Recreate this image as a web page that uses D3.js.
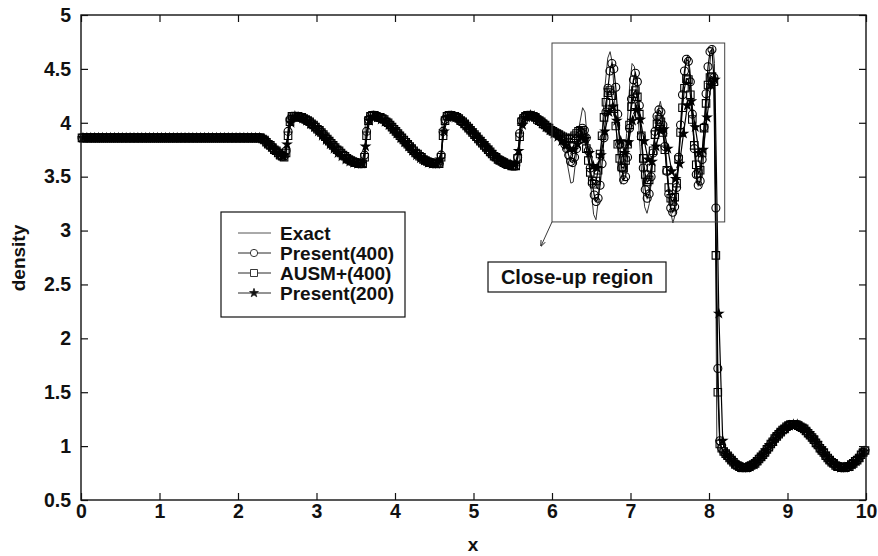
<!DOCTYPE html>
<html>
<head>
<meta charset="UTF-8">
<title>density</title>
<script src="https://cdn.jsdelivr.net/npm/d3@7"></script>
<style>
  body { margin: 0; background: #fff; }
  svg text { font-family: "Liberation Sans", Arial, Helvetica, sans-serif; font-weight: bold; fill: #111; }
</style>
</head>
<body>
<svg id="chart" width="878" height="556"></svg>
<script>
// tick labels
var xTicks = [0, 1, 2, 3, 4, 5, 6, 7, 8, 9, 10];
var yTicks = [0.5, 1, 1.5, 2, 2.5, 3, 3.5, 4, 4.5, 5];
var seriesNames = ["Exact", "Present(400)", "AUSM+(400)", "Present(200)"];

// exact solution
var exactX = [0, 2.30, 2.40, 2.50, 2.60, 2.64, 2.64, 2.70, 2.80, 2.90, 3.00, 3.10, 3.20, 3.30, 3.40, 3.50, 3.62,
  3.62, 3.70, 3.80, 3.90, 4.00, 4.10, 4.20, 4.30, 4.40, 4.50, 4.60,
  4.60, 4.68, 4.78, 4.88, 4.98, 5.08, 5.18, 5.28, 5.38, 5.48, 5.59,
  5.59, 5.68, 5.78, 5.88, 5.98, 6.06, 6.10, 6.16, 6.20, 6.24, 6.27, 6.31, 6.35, 6.39, 6.42, 6.45, 6.49,
  6.53, 6.56, 6.59, 6.63, 6.67, 6.71, 6.74, 6.77, 6.81, 6.85, 6.88, 6.91, 6.95, 6.99, 7.02, 7.05, 7.09,
  7.14, 7.18, 7.21, 7.24, 7.29, 7.34, 7.38, 7.42, 7.47, 7.51, 7.54, 7.57, 7.62, 7.67, 7.71, 7.73, 7.76,
  7.81, 7.86, 7.89, 7.92, 7.97, 8.02, 8.05, 8.07, 8.10, 8.15, 8.20, 8.30, 8.40, 8.50, 8.60, 8.70, 8.80,
  8.90, 9.00, 9.10, 9.20, 9.30, 9.40, 9.50, 9.60, 9.70, 9.80, 9.90, 10.0];
var exactY = [3.857, 3.857, 3.80, 3.73, 3.68, 3.68, 4.05, 4.07, 4.05, 4.00, 3.94, 3.87, 3.80, 3.73, 3.67, 3.63, 3.61,
  4.05, 4.07, 4.05, 4.00, 3.94, 3.86, 3.78, 3.71, 3.66, 3.63, 3.61,
  4.05, 4.07, 4.05, 4.00, 3.93, 3.85, 3.77, 3.70, 3.65, 3.61, 3.60,
  4.04, 4.07, 4.06, 4.01, 3.94, 3.88, 3.85, 3.76, 3.60, 3.44, 3.45, 3.70, 3.98, 4.14, 4.10, 3.85, 3.45,
  3.15, 3.10, 3.28, 3.80, 4.30, 4.60, 4.66, 4.55, 4.05, 3.60, 3.43, 3.50, 3.90, 4.35, 4.55, 4.52, 4.15,
  3.55, 3.22, 3.16, 3.25, 3.70, 4.08, 4.20, 4.05, 3.55, 3.18, 3.07, 3.15, 3.70, 4.30, 4.58, 4.63, 4.48,
  3.85, 3.45, 3.41, 3.55, 4.15, 4.62, 4.71, 4.55, 1.03, 0.99, 0.94, 0.86, 0.81, 0.80, 0.85, 0.92, 1.01,
  1.10, 1.17, 1.20, 1.17, 1.10, 1.01, 0.92, 0.85, 0.80, 0.81, 0.87, 0.95];

// Present, 400 cells (cell centres on [0,10])
var present400 = [
  3.86,3.86,3.86,3.86,3.86,3.86,3.86,3.86,3.86,3.86, 3.86,3.86,3.86,3.86,3.86,3.86,3.86,3.86,3.86,3.86,
  3.86,3.86,3.86,3.86,3.86,3.86,3.86,3.86,3.86,3.86, 3.86,3.86,3.86,3.86,3.86,3.86,3.86,3.86,3.86,3.86,
  3.86,3.86,3.86,3.86,3.86,3.86,3.86,3.86,3.86,3.86, 3.86,3.86,3.86,3.86,3.86,3.86,3.86,3.86,3.86,3.86,
  3.86,3.86,3.86,3.86,3.86,3.86,3.86,3.86,3.86,3.86, 3.86,3.86,3.86,3.86,3.86,3.86,3.86,3.86,3.86,3.86,
  3.86,3.86,3.86,3.86,3.86,3.86,3.86,3.86,3.86,3.86, 3.86,3.86,
  3.85,3.84,3.82,3.80,3.79,3.77,3.75,3.74,3.72,3.70,3.69,3.69,3.74,3.92,4.03,4.06,
  4.06,4.06,4.06,4.05,4.05,4.04,4.03,4.02,4.01,3.99,3.98,3.96,3.94,3.93,3.91,3.89,3.87,3.85,
  3.83,3.81,3.79,3.77,3.75,3.74,3.72,3.70,3.69,3.67,3.66,3.65,3.64,3.63,3.63,3.62,3.62,3.62,
  3.70,3.92,4.03,
  4.06,4.07,4.07,4.06,4.05,4.05,4.04,4.03,4.01,4.00,3.98,3.96,3.94,3.92,3.90,3.88,3.86,3.84,
  3.82,3.80,3.78,3.76,3.74,3.72,3.71,3.69,3.68,3.66,3.65,3.64,3.63,3.63,3.62,3.62,3.62,3.62,
  3.70,3.92,4.03,
  4.06,4.07,4.07,4.06,4.06,4.05,4.04,4.02,4.01,3.99,3.97,3.95,3.93,3.91,3.89,3.87,3.85,3.83,
  3.81,3.79,3.77,3.75,3.73,3.71,3.69,3.68,3.66,3.65,3.64,3.63,3.62,3.61,3.61,3.60,3.60,3.60,
  3.68,3.90,4.02,
  4.05,4.06,4.07,4.07,4.07,4.06,4.05,4.04,4.02,4.01, 4.00,3.98,3.96,3.95,3.93,3.92,3.91,3.90,3.89,3.87,
  3.84,3.80,3.76,3.70,3.64,3.63,3.68,3.76,3.84,3.91, 3.95,3.93,3.86,3.74,3.58,3.44,3.33,3.27,3.30,3.42,
  3.62,3.86,4.10,4.32,4.48,4.55,4.50,4.33,4.08,3.80, 3.58,3.47,3.50,3.68,3.95,4.22,4.40,4.46,4.38,4.16,
  3.87,3.58,3.38,3.30,3.34,3.50,3.72,3.92,4.06,4.12, 4.10,3.98,3.78,3.55,3.34,3.21,3.17,3.22,3.40,3.68,
  3.98,4.26,4.48,4.59,4.57,4.38,4.08,3.76,3.52,3.42, 3.46,3.66,3.96,4.27,4.52,4.66,4.68,4.42,3.21,1.72,
  1.05,
  0.98,0.95,0.93,0.91,0.89,0.87,0.85,0.83,0.82,0.81, 0.80,0.80,0.80,0.80,0.81,0.82,0.83,0.84,0.86,0.88,
  0.90,0.92,0.94,0.97,0.99,1.02,1.04,1.07,1.09,1.11, 1.13,1.15,1.16,1.18,1.19,1.20,1.20,1.20,1.20,1.19,
  1.18,1.17,1.16,1.14,1.12,1.10,1.08,1.06,1.03,1.01, 0.98,0.96,0.94,0.91,0.89,0.87,0.85,0.84,0.82,0.81,
  0.81,0.80,0.80,0.80,0.81,0.81,0.83,0.84,0.86,0.87, 0.89,0.92,0.94,0.96];

// AUSM+, 400 cells
var ausm400 = [
  3.86,3.86,3.86,3.86,3.86,3.86,3.86,3.86,3.86,3.86, 3.86,3.86,3.86,3.86,3.86,3.86,3.86,3.86,3.86,3.86,
  3.86,3.86,3.86,3.86,3.86,3.86,3.86,3.86,3.86,3.86, 3.86,3.86,3.86,3.86,3.86,3.86,3.86,3.86,3.86,3.86,
  3.86,3.86,3.86,3.86,3.86,3.86,3.86,3.86,3.86,3.86, 3.86,3.86,3.86,3.86,3.86,3.86,3.86,3.86,3.86,3.86,
  3.86,3.86,3.86,3.86,3.86,3.86,3.86,3.86,3.86,3.86, 3.86,3.86,3.86,3.86,3.86,3.86,3.86,3.86,3.86,3.86,
  3.86,3.86,3.86,3.86,3.86,3.86,3.86,3.86,3.86,3.86, 3.86,3.86,
  3.85,3.84,3.82,3.80,3.79,3.77,3.75,3.74,3.72,3.70,3.69,3.68,3.72,3.88,4.01,4.06,
  4.06,4.06,4.06,4.05,4.05,4.04,4.03,4.02,4.01,3.99,3.98,3.96,3.94,3.93,3.91,3.89,3.87,3.85,
  3.83,3.81,3.79,3.77,3.75,3.74,3.72,3.70,3.69,3.67,3.66,3.65,3.64,3.63,3.63,3.62,3.62,3.62,
  3.68,3.88,4.02,
  4.06,4.07,4.07,4.06,4.05,4.05,4.04,4.03,4.01,4.00,3.98,3.96,3.94,3.92,3.90,3.88,3.86,3.84,
  3.82,3.80,3.78,3.76,3.74,3.72,3.71,3.69,3.68,3.66,3.65,3.64,3.63,3.63,3.62,3.62,3.62,3.62,
  3.68,3.88,4.02,
  4.06,4.07,4.07,4.06,4.06,4.05,4.04,4.02,4.01,3.99,3.97,3.95,3.93,3.91,3.89,3.87,3.85,3.83,
  3.81,3.79,3.77,3.75,3.73,3.71,3.69,3.68,3.66,3.65,3.64,3.63,3.62,3.61,3.61,3.60,3.60,3.60,
  3.67,3.87,4.01,
  4.04,4.06,4.07,4.07,4.06,4.06,4.05,4.03,4.02,4.01, 3.99,3.98,3.96,3.95,3.93,3.92,3.91,3.90,3.89,3.88,
  3.87,3.86,3.85,3.85,3.85,3.86,3.88,3.90,3.92,3.93, 3.91,3.85,3.76,3.65,3.54,3.46,3.43,3.46,3.56,3.71,
  3.88,4.05,4.19,4.28,4.30,4.25,4.13,3.97,3.80,3.67, 3.59,3.58,3.65,3.80,3.98,4.15,4.27,4.30,4.24,4.08,
  3.88,3.67,3.52,3.45,3.47,3.58,3.74,3.89,3.99,4.03, 4.01,3.91,3.75,3.56,3.40,3.30,3.27,3.31,3.44,3.66,
  3.91,4.14,4.32,4.41,4.40,4.26,4.03,3.79,3.61,3.53, 3.56,3.72,3.95,4.18,4.35,4.42,4.43,4.38,2.77,1.50,
  1.02,
  0.98,0.95,0.93,0.91,0.89,0.87,0.85,0.83,0.82,0.81, 0.80,0.80,0.80,0.80,0.81,0.82,0.83,0.84,0.86,0.88,
  0.90,0.92,0.94,0.97,0.99,1.02,1.04,1.07,1.09,1.11, 1.13,1.15,1.16,1.18,1.19,1.20,1.20,1.20,1.20,1.19,
  1.18,1.17,1.16,1.14,1.12,1.10,1.08,1.06,1.03,1.01, 0.98,0.96,0.94,0.91,0.89,0.87,0.85,0.84,0.82,0.81,
  0.81,0.80,0.80,0.80,0.81,0.81,0.83,0.84,0.86,0.87, 0.89,0.92,0.94,0.96];

// Present, 200 cells
var present200 = [
  3.86,3.86,3.86,3.86,3.86,3.86,3.86,3.86,3.86,3.86, 3.86,3.86,3.86,3.86,3.86,3.86,3.86,3.86,3.86,3.86,
  3.86,3.86,3.86,3.86,3.86,3.86,3.86,3.86,3.86,3.86, 3.86,3.86,3.86,3.86,3.86,3.86,3.86,3.86,3.86,3.86,
  3.86,3.86,3.86,3.86,3.86,3.86,
  3.85,3.81,3.78,3.75,3.71,3.69,3.80,4.00,4.06,
  4.05,4.04,4.02,3.99,3.96,3.92,3.88,3.84,3.80,3.76,3.72,3.69,3.66,3.64,3.63,3.62,3.62,
  3.78,4.02,4.06,
  4.05,4.03,4.01,3.98,3.94,3.90,3.86,3.82,3.78,3.74,3.70,3.67,3.65,3.63,3.62,3.62,
  3.66,3.92,4.05,
  4.06,4.05,4.03,4.00,3.97,3.93,3.89,3.85,3.81,3.77,3.73,3.69,3.66,3.64,3.62,3.61,3.61,
  3.74,3.98,4.05,4.07,4.06,4.03,4.00,3.96,3.93,3.90, 3.87,3.83,3.79,3.76,3.75,3.80,3.86,3.85,3.72,3.60,
  3.58,3.70,3.92,4.10,4.15,4.02,3.83,3.72,3.82,4.02, 4.12,4.03,3.83,3.66,3.64,3.78,3.93,3.94,3.76,3.55,
  3.48,3.62,3.90,4.16,4.20,3.96,3.72,3.75,4.05,4.35, 4.40,2.23,1.05,
  0.92,0.88,0.84,0.82,0.80,0.80,0.81,0.83,0.87,0.91, 0.96,1.01,1.05,1.10,1.14,1.17,1.19,1.20,1.20,1.18,
  1.15,1.12,1.07,1.03,0.98,0.93,0.88,0.85,0.82,0.80, 0.80,0.81,0.83,0.86,0.90,0.95];

var svg = d3.select("#chart");
svg.append("rect").attr("width", 878).attr("height", 556).attr("fill", "#fff");

var x = d3.scaleLinear().domain([0, 10]).range([81, 866]);
var y = d3.scaleLinear().domain([0.5, 5]).range([500, 15]);

function cells(values) {
  var n = values.length;
  return values.map(function (v, i) { return [(i + 0.5) * 10 / n, v]; });
}

var line = d3.line()
  .x(function (d) { return x(d[0]); })
  .y(function (d) { return y(d[1]); });

// exact
svg.append("path")
  .datum(exactX.map(function (v, i) { return [v, exactY[i]]; }))
  .attr("d", line)
  .attr("fill", "none")
  .attr("stroke", "#333")
  .attr("stroke-width", 1);

var series = [
  { data: cells(present400), sym: d3.symbolCircle, size: 50 },
  { data: cells(ausm400), sym: d3.symbolSquare, size: 56 },
  { data: cells(present200), sym: d3.symbolStar, size: 22 }
];

series.forEach(function (s) {
  svg.append("path")
    .datum(s.data)
    .attr("d", line)
    .attr("fill", "none")
    .attr("stroke", "#000")
    .attr("stroke-width", 1.2);
  svg.append("g").selectAll("path")
    .data(s.data)
    .enter().append("path")
    .attr("transform", function (d) { return "translate(" + x(d[0]) + "," + y(d[1]) + ")"; })
    .attr("d", d3.symbol().type(s.sym).size(s.size))
    .attr("fill", s.sym === d3.symbolStar ? "#000" : "none")
    .attr("stroke", "#000")
    .attr("stroke-width", 1.1);
});

// axes, ticks pointing inward
var fmt = d3.format("");
var gb = svg.append("g").attr("transform", "translate(0,500)")
  .call(d3.axisBottom(x).tickValues(xTicks).tickSizeInner(-7).tickSizeOuter(0).tickPadding(4).tickFormat(fmt));
var gl = svg.append("g").attr("transform", "translate(81,0)")
  .call(d3.axisLeft(y).tickValues(yTicks).tickSizeInner(-7).tickSizeOuter(0).tickPadding(10).tickFormat(fmt));
var gt = svg.append("g").attr("transform", "translate(0,15)")
  .call(d3.axisTop(x).tickValues(xTicks).tickSizeInner(-7).tickSizeOuter(0).tickFormat(""));
var gr = svg.append("g").attr("transform", "translate(866,0)")
  .call(d3.axisRight(y).tickValues(yTicks).tickSizeInner(-7).tickSizeOuter(0).tickFormat(""));
[gb, gl, gt, gr].forEach(function (g) {
  g.select(".domain").remove();
  g.selectAll("line").attr("stroke", "#111").attr("stroke-width", 1.2);
  g.selectAll("text").attr("font-size", 19.5).attr("fill", "#111");
});

svg.append("rect")
  .attr("x", 81).attr("y", 15).attr("width", 785).attr("height", 485)
  .attr("fill", "none").attr("stroke", "#111").attr("stroke-width", 1.4);

// axis titles
svg.append("text").attr("x", 473).attr("y", 551).attr("text-anchor", "middle")
  .attr("font-size", 19).text("x");
svg.append("text").attr("transform", "translate(25,258) rotate(-90)")
  .attr("text-anchor", "middle").attr("font-size", 19).text("density");

// close-up box + label + arrow
svg.append("rect").attr("x", x(6.0)).attr("y", y(4.74))
  .attr("width", x(8.2) - x(6.0)).attr("height", y(3.08) - y(4.74))
  .attr("fill", "none").attr("stroke", "#444").attr("stroke-width", 1);
svg.append("defs").append("marker")
  .attr("id", "arr").attr("viewBox", "0 0 10 10").attr("refX", 9).attr("refY", 5)
  .attr("markerWidth", 7).attr("markerHeight", 7).attr("orient", "auto")
  .append("path").attr("d", "M0,1L10,5L0,9").attr("fill", "none").attr("stroke", "#222").attr("stroke-width", 1.4);
svg.append("line").attr("x1", x(6.0)).attr("y1", y(3.08)).attr("x2", 541).attr("y2", 246)
  .attr("stroke", "#222").attr("stroke-width", 0.9).attr("marker-end", "url(#arr)");
svg.append("rect").attr("x", 488).attr("y", 262).attr("width", 178).attr("height", 30)
  .attr("fill", "#fff").attr("stroke", "#111").attr("stroke-width", 1.2);
svg.append("text").attr("x", 577).attr("y", 284).attr("text-anchor", "middle")
  .attr("font-size", 20).text("Close-up region");

// legend
var leg = svg.append("g");
leg.append("rect").attr("x", 221).attr("y", 212).attr("width", 184).attr("height", 105)
  .attr("fill", "#fff").attr("stroke", "#111").attr("stroke-width", 1.2);
var legSyms = [null, d3.symbolCircle, d3.symbolSquare, d3.symbolStar];
var legSizes = [0, 42, 49, 24];
seriesNames.forEach(function (name, i) {
  var yy = 233 + i * 20;
  leg.append("line").attr("x1", 238).attr("x2", 271).attr("y1", yy).attr("y2", yy)
    .attr("stroke", i === 0 ? "#555" : "#111").attr("stroke-width", i === 0 ? 1 : 0.9);
  if (legSyms[i]) {
    leg.append("path").attr("transform", "translate(254," + yy + ")")
      .attr("d", d3.symbol().type(legSyms[i]).size(legSizes[i]))
      .attr("fill", legSyms[i] === d3.symbolStar ? "#111" : "#fff")
      .attr("stroke", "#222").attr("stroke-width", 0.9);
  }
  leg.append("text").attr("x", 280).attr("y", yy + 7).attr("font-size", 19).text(name);
});
</script>
</body>
</html>
